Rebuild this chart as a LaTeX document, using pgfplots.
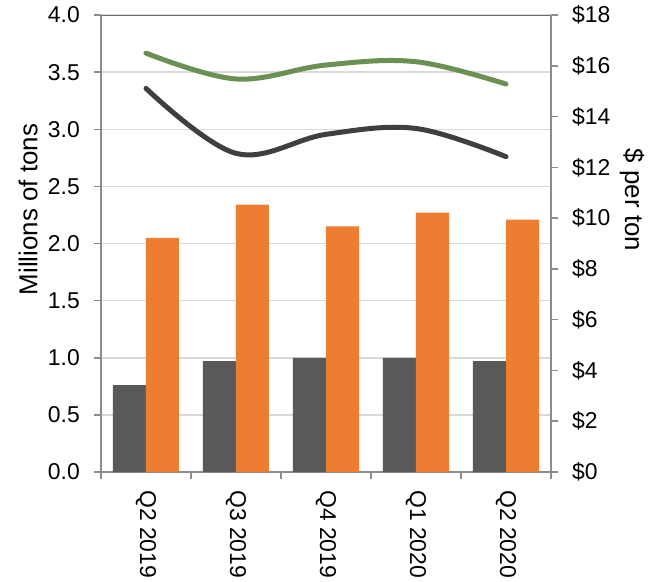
\documentclass[border=0pt]{standalone}
\usepackage{pgfplots}
\pgfplotsset{compat=1.18}
\usepackage{fontspec}
\setmainfont{Liberation Sans}
\definecolor{barDark}{HTML}{595959}
\definecolor{barOrange}{HTML}{ED7D31}
\definecolor{lnGreen}{HTML}{6A9153}
\definecolor{lnBlack}{HTML}{3F3F3F}
\definecolor{axGray}{HTML}{8C8C8C}
\definecolor{gridGray}{HTML}{D9D9D9}
\begin{document}
\begin{tikzpicture}
\path[use as bounding box] (-101bp,-110bp) rectangle (551bp,472bp);
\pgfplotsset{
  common/.style={
    width=450bp, height=457bp, scale only axis,
    at={(0,0)}, anchor=south west,
    xmin=-0.5, xmax=4.5,
    /pgf/number format/assume math mode=true,
    tick label style={font=\fontsize{23}{27}\selectfont},
    label style={font=\fontsize{26}{30}\selectfont},
  }
}
\begin{axis}[common,
  ymin=0, ymax=4,
  ytick={0,0.5,...,4},
  yticklabel style={/pgf/number format/fixed, /pgf/number format/fixed zerofill, /pgf/number format/precision=1},
  yticklabel style={anchor=east, inner sep=0pt, xshift=-14bp},
  axis y line*=left,
  axis x line*=bottom,
  axis line style={axGray, line width=1.5bp, -},
  tick style={axGray, line width=1.5bp},
  tick align=outside,
  major tick length=7bp,
  xtick={-0.5,0.5,...,4.5},
  xticklabels={},
  extra x ticks={0,1,2,3,4},
  extra x tick labels={Q2 2019,Q3 2019,Q4 2019,Q1 2020,Q2 2020},
  extra x tick style={major tick length=0pt, tick style={draw=none}, grid=none,
    xticklabel style={rotate=-90, anchor=west, inner sep=0pt, xshift=18bp}},
  ymajorgrids, grid style={draw=gridGray, line width=1.5bp},
  ylabel={Millions of tons},
  ylabel style={at={([xshift=-73bp,yshift=34bp]axis description cs:0,0.5)}, anchor=center},
  ybar=0pt, bar width=33bp,
]
\addplot[fill=barDark, draw=none] coordinates {(0,0.76) (1,0.97) (2,1.00) (3,1.00) (4,0.97)};
\addplot[fill=barOrange, draw=none] coordinates {(0,2.05) (1,2.34) (2,2.15) (3,2.27) (4,2.21)};
\draw[color=barDark!90, line width=1.5bp] (rel axis cs:0,1) -- (rel axis cs:1,1);
\end{axis}
\begin{axis}[common,
  ymin=0, ymax=18,
  ytick={0,2,...,18},
  yticklabel={\$\pgfmathprintnumber{\tick}},
  yticklabel style={anchor=west, inner sep=0pt, xshift=14bp},
  axis y line*=right,
  axis x line=none,
  axis line style={axGray, line width=1.5bp, -},
  ytick style={axGray, line width=1.5bp},
  tick align=outside,
  major tick length=7bp,
  ylabel={\$ per ton},
  ylabel style={at={([xshift=81bp,yshift=43.5bp]axis description cs:1,0.5)}, anchor=center, rotate=180},
]
\addplot[lnGreen, line width=5bp, line cap=round, smooth, tension=0.6] coordinates {(0,16.5) (1,15.48) (2,16.03) (3,16.16) (4,15.28)};
\addplot[lnBlack, line width=5bp, line cap=round, smooth, tension=0.6] coordinates {(0,15.11) (1,12.55) (2,13.3) (3,13.53) (4,12.42)};
\end{axis}
\end{tikzpicture}
\end{document}
